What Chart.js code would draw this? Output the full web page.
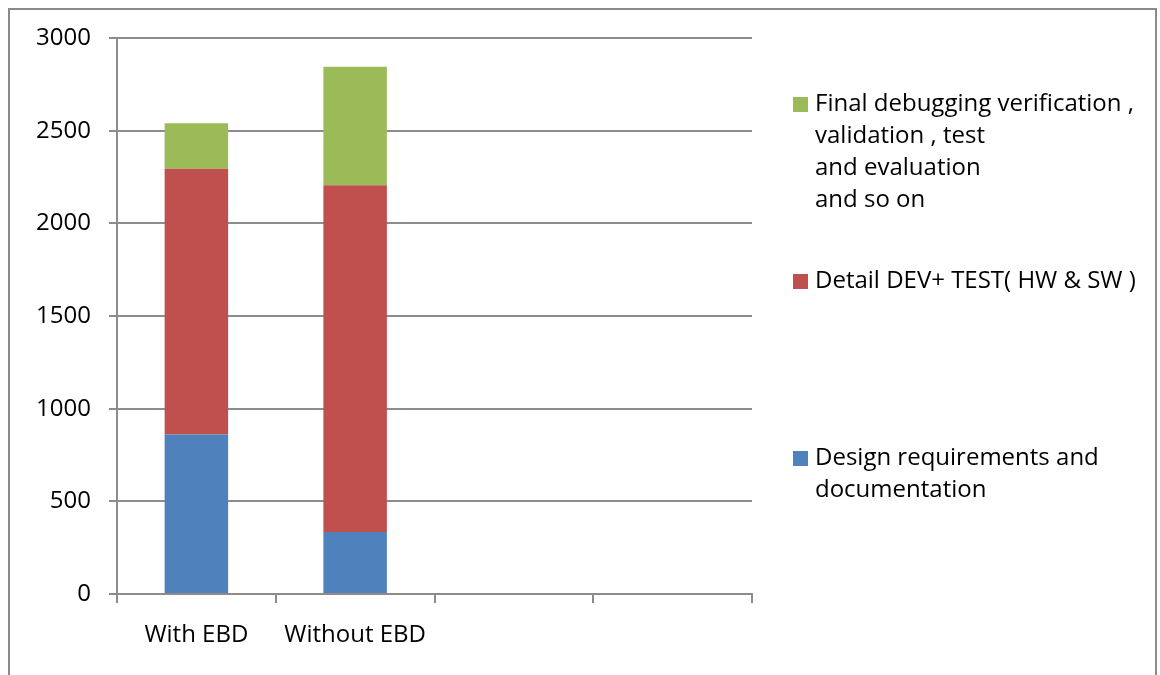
<!DOCTYPE html>
<html>
<head>
<meta charset="utf-8">
<script src="https://cdn.jsdelivr.net/npm/chart.js@4.4.0/dist/chart.umd.min.js"></script>
<style>
  html, body { margin: 0; padding: 0; background: #ffffff; }
  #wrap { position: relative; width: 1160px; height: 675px; }
</style>
</head>
<body>
<div id="wrap"><canvas id="effort" width="1160" height="675"></canvas></div>
<script>
// Effort per phase, stacked per approach

const categories = ["With EBD", "Without EBD", "", ""];
const designDocs = [860, 335, null, null];
const detailDev = [1435, 1870, null, null];
const finalDebug = [245, 640, null, null];
const yTicks = [0, 500, 1000, 1500, 2000, 2500, 3000];

const designLabel = ["Design requirements and", "documentation"];
const detailLabel = ["Detail DEV+ TEST( HW & SW )"];
const finalLabel = ["Final debugging verification ,", "validation , test", "and evaluation", "and so on"];

const FONT = "'Open Sans', sans-serif";
const FONT_SIZE = 24;
const GRID = "#8c8c8c";

// legend drawn by hand: Excel style, multi-line labels, evenly spread
const sideLegend = {
  id: "sideLegend",
  afterDraw(chart) {
    const ctx = chart.ctx;
    const items = chart.data.datasets.slice().reverse();
    ctx.save();
    ctx.font = FONT_SIZE + "px " + FONT;
    ctx.textBaseline = "middle";
    ctx.textAlign = "left";
    items.forEach((ds, i) => {
      const y = 104 + i * 177;
      ctx.fillStyle = ds.backgroundColor;
      ctx.fillRect(793, y - 7, 15, 15);
      ctx.fillStyle = "#000000";
      ds.legendLines.forEach((line, j) => {
        ctx.fillText(line, 815, y + j * 32);
      });
    });
    ctx.restore();
  },
};

// outer frame of the chart object
const frame = {
  id: "frame",
  beforeDraw(chart) {
    const ctx = chart.ctx;
    ctx.save();
    ctx.fillStyle = "#ffffff";
    ctx.fillRect(0, 0, chart.width, chart.height);
    ctx.strokeStyle = "#8a8a8a";
    ctx.lineWidth = 2;
    ctx.strokeRect(9, 9, 1147, 720);
    ctx.restore();
  },
};

new Chart(document.getElementById("effort"), {
  type: "bar",
  data: {
    labels: categories,
    datasets: [
      {
        label: designLabel.join(" "),
        legendLines: designLabel,
        data: designDocs,
        backgroundColor: "#4f81bd",
      },
      {
        label: detailLabel.join(" "),
        legendLines: detailLabel,
        data: detailDev,
        backgroundColor: "#c0504d",
      },
      {
        label: finalLabel.join(" "),
        legendLines: finalLabel,
        data: finalDebug,
        backgroundColor: "#9bbb59",
      },
    ],
  },
  plugins: [frame, sideLegend],
  options: {
    responsive: false,
    animation: false,
    devicePixelRatio: 1,
    categoryPercentage: 1,
    barPercentage: 0.4,
    layout: {
      padding: { left: 0, right: 408, top: 38, bottom: 0 },
    },
    plugins: {
      legend: { display: false },
      tooltip: { enabled: false },
    },
    scales: {
      x: {
        stacked: true,
        offset: true,
        grid: {
          offset: true,
          drawOnChartArea: false,
          color: GRID,
          lineWidth: 2,
          tickLength: 9,
        },
        border: { color: GRID, width: 2 },
        ticks: {
          color: "#000000",
          font: { family: FONT, size: FONT_SIZE },
          padding: 18,
          maxRotation: 0,
          autoSkip: false,
        },
        afterFit(scale) {
          scale.height = 81;
        },
      },
      y: {
        stacked: true,
        min: 0,
        max: 3000,
        afterBuildTicks(scale) {
          scale.ticks = yTicks.map((v) => ({ value: v }));
        },
        grid: {
          color: GRID,
          lineWidth: 2,
          tickLength: 8,
        },
        border: { color: GRID, width: 2 },
        ticks: {
          color: "#000000",
          font: { family: FONT, size: FONT_SIZE },
          padding: 18,
          callback: (v) => String(v),
        },
        afterFit(scale) {
          scale.width = 117;
        },
      },
    },
  },
});
</script>
</body>
</html>
